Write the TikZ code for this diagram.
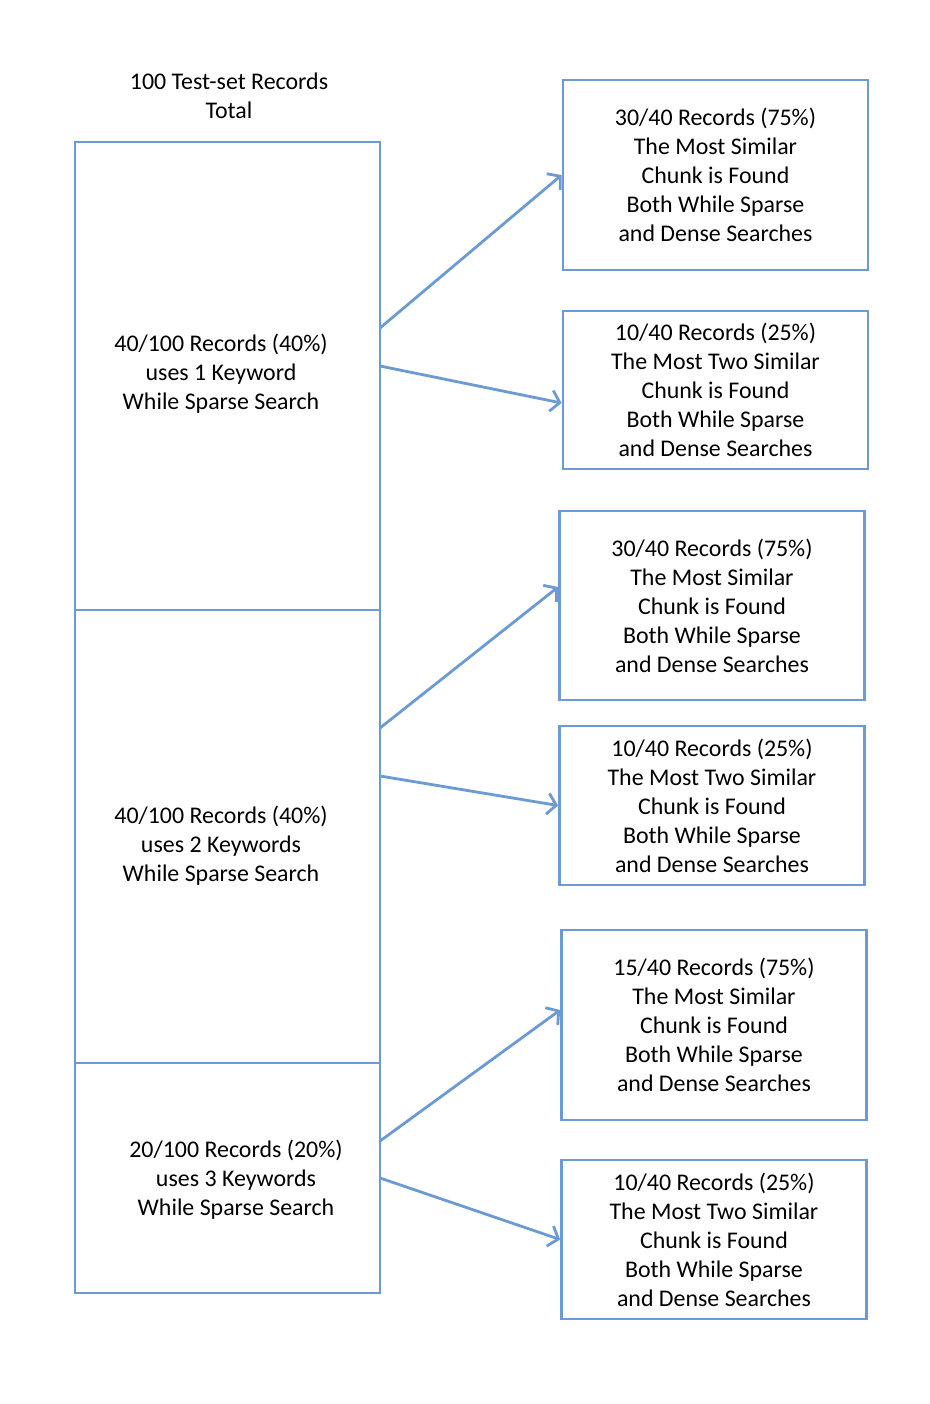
\documentclass[tikz,border=0pt]{standalone}
\usepackage{fontspec}
\setmainfont{Carlito}
\usetikzlibrary{arrows.meta,positioning}
\definecolor{boxblue}{RGB}{108,155,212}
\tikzset{
  box/.style={draw=boxblue, line width=1.6pt, minimum width=6.1cm, align=center, inner sep=0pt},
  lbl/.style={align=center, inner sep=0pt},
  arrow/.style={draw=boxblue, line width=1.6pt, -{Straight Barb[length=5pt,width=12pt]}},
}
\begin{document}
\begin{tikzpicture}[x=0.02cm, y=-0.02cm, font=\fontsize{13.6}{16.5}\selectfont]
\useasboundingbox (0,0) rectangle (930,1404);
% left column
\node[lbl] (title) at (229,96) {100 Test-set Records\\Total};
\node[box, minimum height=9.36cm] (rec1) at (227.5,376) {};
\node[box, minimum height=9.06cm] (rec2) at (227.5,836.5) {};
\node[box, minimum height=4.6cm] (rec3) at (227.5,1178) {};
\node[lbl] (lab1) at (221,374) {40/100 Records (40\%)\\uses 1 Keyword\\While Sparse Search};
\node[lbl] (lab2) at (221,846) {40/100 Records (40\%)\\uses 2 Keywords\\While Sparse Search};
\node[lbl] (lab3) at (236,1180) {20/100 Records (20\%)\\uses 3 Keywords\\While Sparse Search};
% right column
\node[box, minimum height=3.8cm] (out1) at (715.5,175) {30/40 Records (75\%)\\The Most Similar\\Chunk is Found\\Both While Sparse\\and Dense Searches};
\node[box, minimum height=3.16cm] (out2) at (715.5,390) {10/40 Records (25\%)\\The Most Two Similar\\Chunk is Found\\Both While Sparse\\and Dense Searches};
\node[box, minimum height=3.78cm] (out3) at (712,605.5) {30/40 Records (75\%)\\The Most Similar\\Chunk is Found\\Both While Sparse\\and Dense Searches};
\node[box, minimum height=3.18cm] (out4) at (712,805.5) {10/40 Records (25\%)\\The Most Two Similar\\Chunk is Found\\Both While Sparse\\and Dense Searches};
\node[box, minimum height=3.8cm] (out5) at (714,1025) {15/40 Records (75\%)\\The Most Similar\\Chunk is Found\\Both While Sparse\\and Dense Searches};
\node[box, minimum height=3.18cm] (out6) at (714,1239.5) {10/40 Records (25\%)\\The Most Two Similar\\Chunk is Found\\Both While Sparse\\and Dense Searches};
% arrow tails
\coordinate (t1) at (380,328);
\coordinate (t2) at (380,366);
\coordinate (t3) at (380,728);
\coordinate (t4) at (380,776);
\coordinate (t5) at (380,1141);
\coordinate (t6) at (380,1178);
\draw[arrow] (t1) -- (out1.west);
\draw[arrow] (t2) -- ([yshift=-0.26cm]out2.west);
\draw[arrow] (t3) -- ([yshift=0.37cm]out3.west);
\draw[arrow] (t4) -- (out4.west);
\draw[arrow] (t5) -- ([yshift=0.3cm]out5.west);
\draw[arrow] (t6) -- (out6.west);
\end{tikzpicture}
\end{document}
